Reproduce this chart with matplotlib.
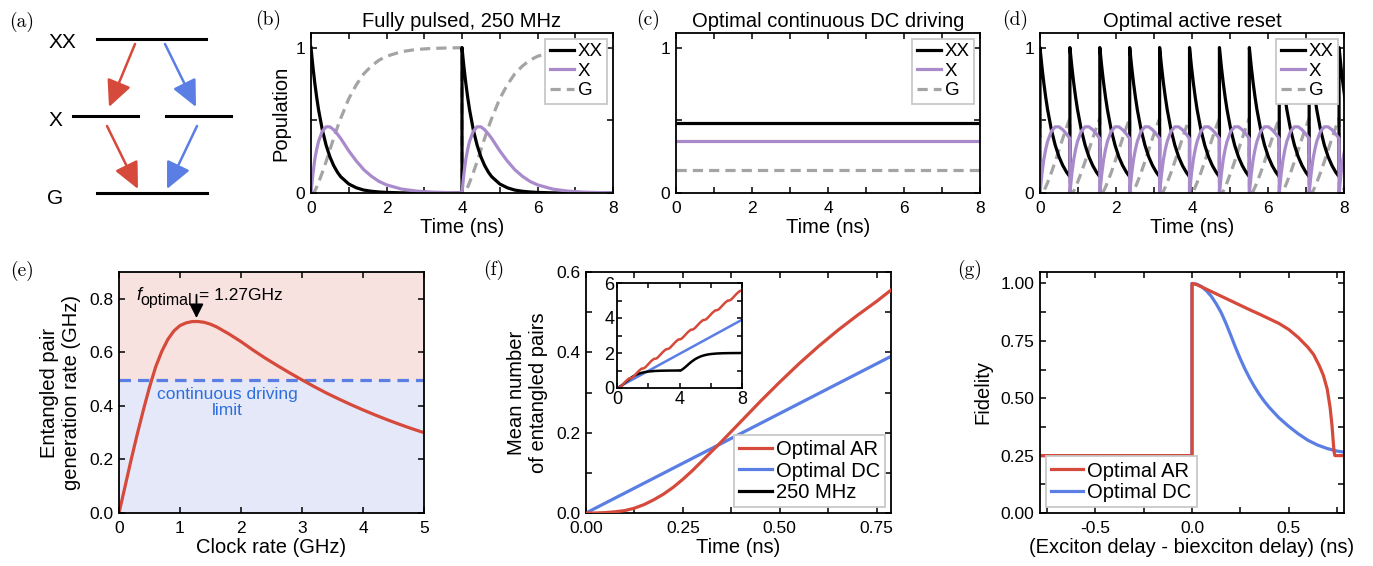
import numpy as np
import matplotlib
matplotlib.use("Agg")
import matplotlib.pyplot as plt
from matplotlib.patches import FancyArrowPatch
from matplotlib.ticker import MultipleLocator, FormatStrFormatter

plt.rcParams.update({
    "font.family": ["Liberation Sans", "DejaVu Sans"],
    "axes.unicode_minus": False,
})

W, H = 1373, 566

# ---- data ----
# one excitation cycle of the cascade (ns) -> populations, used for (b), (d) and the inset of (f)
PULSE_T = [0, 0.025, 0.05, 0.1, 0.15, 0.2, 0.3, 0.4, 0.5, 0.6, 0.7, 0.787, 1.0, 1.2, 1.4,
           1.6, 1.8, 2.0, 2.4, 2.8, 3.2, 3.6, 4.0]
PULSE_XX = [1, 0.933, 0.87, 0.757, 0.659, 0.573, 0.434, 0.329, 0.249, 0.189, 0.143, 0.112,
            0.062, 0.036, 0.020, 0.012, 0.007, 0.004, 0.001, 0, 0, 0, 0]
PULSE_X = [0, 0.067, 0.13, 0.23, 0.30, 0.355, 0.425, 0.455, 0.455, 0.435, 0.405, 0.375,
           0.29, 0.22, 0.16, 0.115, 0.08, 0.056, 0.027, 0.013, 0.006, 0.003, 0.001]
PULSE_G = [0, 0, 0.0, 0.013, 0.041, 0.072, 0.141, 0.216, 0.296, 0.376, 0.452, 0.513, 0.648,
           0.744, 0.82, 0.873, 0.913, 0.94, 0.972, 0.987, 0.994, 0.997, 0.999]
PERIOD_250 = 4.0      # ns, 250 MHz
AR_PERIOD = 0.787     # ns, 1/1.27 GHz

# (c) steady state under continuous driving
DC_XX, DC_X, DC_G = 0.48, 0.36, 0.16
T_SPAN = [0, 8]

# (e) generation rate vs clock rate
CLOCK_F = [0, 0.1, 0.2, 0.3, 0.4, 0.5, 0.6, 0.7, 0.8, 0.9, 1.0, 1.1, 1.2, 1.3, 1.4, 1.5,
           1.6, 1.8, 2.0, 2.2, 2.4, 2.6, 2.8, 3.0, 3.2, 3.4, 3.6, 3.8, 4.0, 4.2, 4.4, 4.6,
           4.8, 5.0]
PAIR_RATE = [0, 0.10, 0.20, 0.295, 0.385, 0.47, 0.545, 0.603, 0.648, 0.68, 0.70, 0.71,
             0.715, 0.715, 0.712, 0.705, 0.695, 0.669, 0.64, 0.608, 0.578, 0.55, 0.523,
             0.497, 0.472, 0.448, 0.426, 0.405, 0.385, 0.366, 0.348, 0.331, 0.315, 0.300]
DC_LIMIT = 0.495
F_OPT = 1.27

# (f) mean number of entangled pairs
AR_T = [0, 0.025, 0.05, 0.075, 0.1, 0.125, 0.15, 0.175, 0.2, 0.225, 0.25, 0.275, 0.3,
        0.325, 0.35, 0.4, 0.45, 0.5, 0.55, 0.6, 0.65, 0.7, 0.75, 0.787]
AR_PAIRS = [0, 0, 0.001, 0.003, 0.006, 0.012, 0.021, 0.033, 0.047, 0.064, 0.084, 0.106,
            0.13, 0.154, 0.178, 0.228, 0.278, 0.326, 0.372, 0.415, 0.455, 0.492, 0.527,
            0.555]
DC_T = [0, 0.787]
DC_PAIRS = [0, 0.39]
DC_T_LONG = [0, 8]
DC_PAIRS_LONG = [0, 3.9]

# (g) fidelity vs delay
DELAY_AR = [-0.787, 0, 0, 0.025, 0.05, 0.1, 0.15, 0.2, 0.25, 0.3, 0.35, 0.4, 0.45, 0.5,
            0.55, 0.6, 0.63, 0.66, 0.68, 0.7, 0.715, 0.725, 0.735, 0.74, 0.787]
FID_AR = [0.25, 0.25, 1.0, 0.995, 0.985, 0.965, 0.945, 0.925, 0.905, 0.885, 0.866, 0.846,
          0.826, 0.80, 0.765, 0.722, 0.69, 0.64, 0.60, 0.54, 0.46, 0.38, 0.27, 0.25, 0.25]
DELAY_DC = [-0.787, 0, 0, 0.025, 0.05, 0.075, 0.1, 0.125, 0.15, 0.175, 0.2, 0.225, 0.25,
            0.275, 0.3, 0.325, 0.35, 0.375, 0.4, 0.45, 0.5, 0.55, 0.6, 0.65, 0.7, 0.75,
            0.787]
FID_DC = [0.25, 0.25, 1.0, 0.997, 0.986, 0.968, 0.944, 0.912, 0.875, 0.828, 0.776, 0.722,
          0.672, 0.626, 0.585, 0.548, 0.515, 0.486, 0.46, 0.415, 0.378, 0.345, 0.317,
          0.296, 0.281, 0.27, 0.265]

RED, BLUE, PURPLE, GREY = "#D64A3C", "#5A7EE3", "#A98BCC", "#A4A4A4"
LW = 2.3
FS_TICK, FS_LAB = 12.5, 14.5
DASH = (0, (3.2, 1.9))


def frac(x, y):
    return x / W, 1 - y / H


def box(l, t, r, b):
    return [l / W, 1 - b / H, (r - l) / W, (b - t) / H]


def style(ax, size=FS_TICK):
    ax.tick_params(which="both", direction="in", top=True, right=True, length=4.5,
                   width=1.1, labelsize=size, pad=4)
    ax.tick_params(axis="x", which="both", pad=6)
    for s in ax.spines.values():
        s.set_linewidth(1.3)


def legend(ax, loc, fs, handles=None, handlelength=1.3):
    if handles is None:
        handles = ax.get_legend_handles_labels()[0]
    lg = ax.legend(handles=handles, loc=loc, fontsize=fs, frameon=True, fancybox=False,
                   edgecolor="#c8c8c8", framealpha=1, handlelength=handlelength,
                   handletextpad=0.2, labelspacing=0.12, borderpad=0.25, borderaxespad=0.3)
    lg.get_frame().set_linewidth(1.3)


fig = plt.figure(figsize=(W / 100, H / 100), dpi=100)

# ---- (a) level scheme ----
axa = fig.add_axes([0, 0, 1, 1], zorder=-1)
axa.set_xlim(0, W)
axa.set_ylim(H, 0)
axa.axis("off")
LEVELS = [(97, 206, 39), (73, 138, 116), (166, 231, 116), (97, 207, 193)]
for x0, x1, y in LEVELS:
    axa.plot([x0, x1], [y, y], color="k", lw=2.2)
ARROWS = [((135, 44), (109, 107), RED), ((165, 44), (196, 107), BLUE),
          ((107, 126), (138, 189), RED), ((197, 126), (167, 189), BLUE)]
for p0, p1, c in ARROWS:
    axa.add_patch(FancyArrowPatch(p0, p1, arrowstyle="-|>,head_length=0.95,head_width=0.45",
                                  mutation_scale=17, color=c, lw=1.8, shrinkA=0, shrinkB=0))
for s, x, y in [("XX", 62, 43), ("X", 55, 121), ("G", 55, 198)]:
    axa.text(x, y, s, fontsize=15, ha="center", va="center")

for lab, x, y in [("(a)", 22, 22), ("(b)", 268, 20), ("(c)", 648, 20), ("(d)", 1015, 20),
                  ("(e)", 22, 271), ("(f)", 494, 270), ("(g)", 970, 270)]:
    fig.text(*frac(x, y), lab, family="cmr10", fontsize=14, ha="center", va="center")

# ---- (b), (c), (d) populations ----
tp = np.array(PULSE_T)
tb = np.concatenate([tp, tp + PERIOD_250])
n_ar = PULSE_T.index(AR_PERIOD) + 1
td = np.concatenate([tp[:n_ar] + k * AR_PERIOD for k in range(-1, 11)])


def cyc(vals, n, reps):
    return np.concatenate([np.array(vals[:n])] * reps)


axb = fig.add_axes(box(311, 33, 613, 193))
axc = fig.add_axes(box(676, 33, 980, 193))
axd = fig.add_axes(box(1040, 33, 1344, 193))

npb = len(PULSE_T)
for ax, tt, xx, x, gg in [
        (axb, tb, cyc(PULSE_XX, npb, 2), cyc(PULSE_X, npb, 2), cyc(PULSE_G, npb, 2)),
        (axc, T_SPAN, [DC_XX] * 2, [DC_X] * 2, [DC_G] * 2),
        (axd, td, cyc(PULSE_XX, n_ar, 12), cyc(PULSE_X, n_ar, 12), cyc(PULSE_G, n_ar, 12))]:
    lg_, = ax.plot(tt, gg, color=GREY, lw=LW, ls=DASH, label="G")
    lxx, = ax.plot(tt, xx, color="k", lw=LW, label="XX")
    lx, = ax.plot(tt, x, color=PURPLE, lw=LW, label="X")
    legend(ax, "upper right", 13.5, handles=[lxx, lx, lg_])

for ax, title in [(axb, "Fully pulsed, 250 MHz"), (axc, "Optimal continuous DC driving"),
                  (axd, "Optimal active reset")]:
    ax.set_xlim(0, 8)
    ax.set_ylim(0, 1.1)
    ax.xaxis.set_major_locator(MultipleLocator(2))
    ax.xaxis.set_minor_locator(MultipleLocator(1))
    ax.set_yticks([0, 1])
    ax.set_yticklabels(["0", "1"])
    ax.set_yticks([0.5], minor=True)
    ax.set_title(title, fontsize=FS_LAB, pad=4)
    ax.set_xlabel("Time (ns)", fontsize=FS_LAB, labelpad=1)
    style(ax)
axb.set_ylabel("Population", fontsize=FS_LAB, labelpad=4)

# ---- (e) rate vs clock ----
axe = fig.add_axes(box(119, 272, 424, 513))
axe.axhspan(DC_LIMIT, 0.9, color="#F7E2DF", lw=0)
axe.axhspan(0, DC_LIMIT, color="#E5E8F8", lw=0)
axe.axhline(DC_LIMIT, color=BLUE, lw=LW, ls=(0, (3.6, 2.2)))
axe.plot(CLOCK_F, PAIR_RATE, color=RED, lw=LW)
axe.annotate("", xy=(F_OPT, 0.728), xytext=(F_OPT, 0.815),
             arrowprops=dict(arrowstyle="-|>,head_length=0.6,head_width=0.3",
                             color="k", lw=1.3, mutation_scale=14, shrinkA=0, shrinkB=0))
axe.text(0.29, 0.795, "f", style="italic", fontsize=13, va="baseline")
axe.text(0.345, 0.776, "optimal", fontsize=11.5, va="baseline")
axe.text(1.31, 0.795, "= 1.27GHz", fontsize=12.5, va="baseline")
axe.text(1.78, 0.413, "continuous driving\nlimit", color="#2E6FDD", fontsize=12.5,
         ha="center", va="center", linespacing=1.15)
axe.set_xlim(0, 5)
axe.set_ylim(0, 0.9)
axe.xaxis.set_major_locator(MultipleLocator(1))
axe.yaxis.set_major_locator(MultipleLocator(0.2))
axe.yaxis.set_major_formatter(FormatStrFormatter("%.1f"))
axe.set_xlabel("Clock rate (GHz)", fontsize=FS_LAB, labelpad=1)
axe.set_ylabel("Entangled pair\ngeneration rate (GHz)", fontsize=FS_LAB, labelpad=6)
style(axe)

# ---- (f) mean number of pairs ----
axf = fig.add_axes(box(586, 272, 891, 513))
axf.plot(AR_T, AR_PAIRS, color=RED, lw=LW, label="Optimal AR", zorder=3)
axf.plot(DC_T, DC_PAIRS, color=BLUE, lw=LW, label="Optimal DC")
axf.plot([], [], color="k", lw=LW, label="250 MHz")
axf.set_xlim(0, 0.787)
axf.set_ylim(0, 0.6)
axf.xaxis.set_major_locator(MultipleLocator(0.25))
axf.xaxis.set_minor_locator(MultipleLocator(0.125))
axf.xaxis.set_major_formatter(FormatStrFormatter("%.2f"))
axf.yaxis.set_major_locator(MultipleLocator(0.2))
axf.yaxis.set_minor_locator(MultipleLocator(0.1))
axf.yaxis.set_major_formatter(FormatStrFormatter("%.1f"))
axf.set_xlabel("Time (ns)", fontsize=FS_LAB, labelpad=1)
axf.set_ylabel("Mean number\nof entangled pairs", fontsize=FS_LAB, labelpad=6)
style(axf)
legend(axf, "lower right", 14.5, handlelength=1.6)

axi = fig.add_axes(box(617, 283, 742, 388))
ar_t = np.array(AR_T)
ar_y = np.array(AR_PAIRS)
ti = np.concatenate([ar_t + k * AR_PERIOD for k in range(11)])
yi = np.concatenate([ar_y + k * AR_PAIRS[-1] for k in range(11)])
g = np.array(PULSE_G)
axi.plot(DC_T_LONG, DC_PAIRS_LONG, color=BLUE, lw=1.8)
axi.plot(tb, np.concatenate([g, g + 1]), color="k", lw=1.8)
axi.plot(ti, yi, color=RED, lw=1.8)
axi.set_xlim(0, 8)
axi.set_ylim(0, 6)
axi.xaxis.set_major_locator(MultipleLocator(4))
axi.xaxis.set_minor_locator(MultipleLocator(2))
axi.yaxis.set_major_locator(MultipleLocator(2))
axi.yaxis.set_minor_locator(MultipleLocator(1))
style(axi, size=13)
axi.tick_params(which="both", length=3.5, pad=2)

# ---- (g) fidelity ----
axg = fig.add_axes(box(1040, 272, 1344, 513))
ldc, = axg.plot(DELAY_DC, FID_DC, color=BLUE, lw=LW, label="Optimal DC")
lar, = axg.plot(DELAY_AR, FID_AR, color=RED, lw=LW, label="Optimal AR")
axg.set_xlim(-0.787, 0.787)
axg.set_ylim(0, 1.05)
axg.xaxis.set_major_locator(MultipleLocator(0.5))
axg.xaxis.set_minor_locator(MultipleLocator(0.25))
axg.xaxis.set_major_formatter(FormatStrFormatter("%.1f"))
axg.yaxis.set_major_locator(MultipleLocator(0.25))
axg.yaxis.set_minor_locator(MultipleLocator(0.125))
axg.yaxis.set_major_formatter(FormatStrFormatter("%.2f"))
axg.set_xlabel("(Exciton delay - biexciton delay) (ns)", fontsize=FS_LAB, labelpad=1)
axg.set_ylabel("Fidelity", fontsize=FS_LAB, labelpad=6)
style(axg)
legend(axg, "lower left", 14.5, handles=[lar, ldc], handlelength=1.6)

fig.savefig("out.png", dpi=100)
